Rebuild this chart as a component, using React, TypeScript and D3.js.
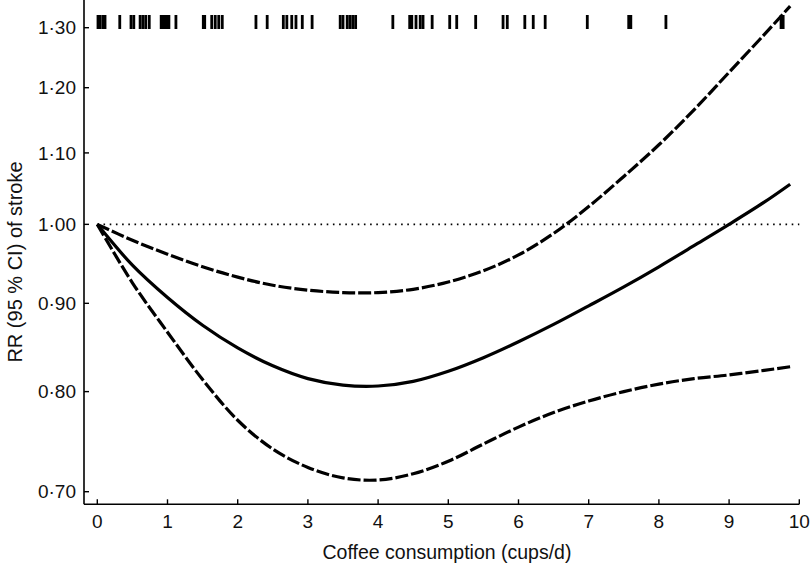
import React from "react";
import * as d3 from "d3";

const xVals = [0, 0.5, 1, 1.5, 2, 2.5, 3, 3.5, 4, 4.5, 5, 5.5, 6, 6.5, 7, 7.5, 8, 8.5, 9, 9.5, 9.87];
const rrEst = [1.0, 0.947, 0.907, 0.874, 0.848, 0.828, 0.814, 0.807, 0.806, 0.811, 0.822, 0.837, 0.855, 0.875, 0.897, 0.92, 0.945, 0.972, 1.0, 1.03, 1.055];
const rrUpper = [1.0, 0.979, 0.961, 0.945, 0.932, 0.922, 0.916, 0.913, 0.913, 0.917, 0.926, 0.94, 0.96, 0.988, 1.024, 1.066, 1.112, 1.165, 1.225, 1.288, 1.338];
const rrLower = [1.0, 0.925, 0.866, 0.813, 0.77, 0.741, 0.723, 0.713, 0.711, 0.717, 0.729, 0.746, 0.763, 0.778, 0.79, 0.8, 0.808, 0.814, 0.818, 0.823, 0.827];
const rugVals = [0.01, 0.04, 0.08, 0.11, 0.32, 0.48, 0.52, 0.61, 0.65, 0.69, 0.74, 0.91, 0.94, 0.96, 0.99, 1.02, 1.12, 1.51, 1.53, 1.63, 1.68, 1.73, 1.78, 2.26, 2.42, 2.65, 2.7, 2.77, 2.83, 2.92, 3.06, 3.46, 3.5, 3.56, 3.6, 3.64, 3.68, 4.21, 4.45, 4.48, 4.54, 4.6, 4.64, 4.77, 5.02, 5.12, 5.39, 5.78, 5.84, 6.09, 6.21, 6.38, 6.98, 7.57, 7.6, 8.1, 9.74, 9.77];
const xTicks = [0, 1, 2, 3, 4, 5, 6, 7, 8, 9, 10];
const yTicks = [0.7, 0.8, 0.9, 1.0, 1.1, 1.2, 1.3];
const yTickLabels = ["0·70", "0·80", "0·90", "1·00", "1·10", "1·20", "1·30"];

const FONT = "'Liberation Sans', Arial, Helvetica, sans-serif";

export default function App() {
  const x = d3.scaleLinear().domain([0, 10]).range([97.3, 799.3]);
  const y = d3.scaleLog().domain([0.7, 1.3]).range([491.7, 27.7]);
  const axisLeft = 84;
  const axisBottom = 504.3;

  const line = d3
    .line<[number, number]>()
    .x((d) => x(d[0]))
    .y((d) => y(d[1]))
    .curve(d3.curveCatmullRom.alpha(0.5));

  const mk = (vals: number[]) => xVals.map((v, i) => [v, vals[i]] as [number, number]);

  return (
    <svg width={810} height={569} style={{ position: "absolute", left: 0, top: 0, background: "#fff" }}>
      <rect width={810} height={569} fill="#fff" />
      {/* axes */}
      <line x1={axisLeft} x2={axisLeft} y1={0} y2={axisBottom} stroke="#000" strokeWidth={1.6} />
      <line x1={axisLeft} x2={x(10)} y1={axisBottom} y2={axisBottom} stroke="#000" strokeWidth={1.6} />
      {yTicks.map((t, i) => (
        <g key={"yt" + i}>
          <line x1={axisLeft} x2={axisLeft + 5} y1={y(t)} y2={y(t)} stroke="#000" strokeWidth={1.4} />
          <text x={76} y={y(t)} dy="0.35em" textAnchor="end" fontFamily={FONT} fontSize={19} fill="#111">
            {yTickLabels[i]}
          </text>
        </g>
      ))}
      {xTicks.map((t) => (
        <g key={"xt" + t}>
          <line x1={x(t)} x2={x(t)} y1={axisBottom} y2={axisBottom - 5} stroke="#000" strokeWidth={1.4} />
          <text x={x(t)} y={528} textAnchor="middle" fontFamily={FONT} fontSize={19} fill="#111">
            {t}
          </text>
        </g>
      ))}
      <text x={447} y={559} textAnchor="middle" fontFamily={FONT} fontSize={19.5} fill="#111">
        Coffee consumption (cups/d)
      </text>
      <text
        transform={`translate(22,262) rotate(-90)`}
        textAnchor="middle"
        fontFamily={FONT}
        fontSize={20}
        fill="#111"
      >
        RR (95 % CI) of stroke
      </text>
      {/* reference line */}
      <line x1={x(0)} x2={x(10)} y1={y(1)} y2={y(1)} stroke="#000" strokeWidth={1.6} strokeDasharray="1.6 4.6" />
      {/* rug */}
      {rugVals.map((v, i) => (
        <rect key={"r" + i} x={x(v) - 1.4} y={15} width={2.8} height={14} fill="#000" />
      ))}
      {/* curves */}
      <path d={line(mk(rrUpper)) || ""} fill="none" stroke="#000" strokeWidth={3.2} strokeDasharray="13 3" />
      <path d={line(mk(rrLower)) || ""} fill="none" stroke="#000" strokeWidth={3.2} strokeDasharray="13 3" />
      <path d={line(mk(rrEst)) || ""} fill="none" stroke="#000" strokeWidth={3.2} />
    </svg>
  );
}
